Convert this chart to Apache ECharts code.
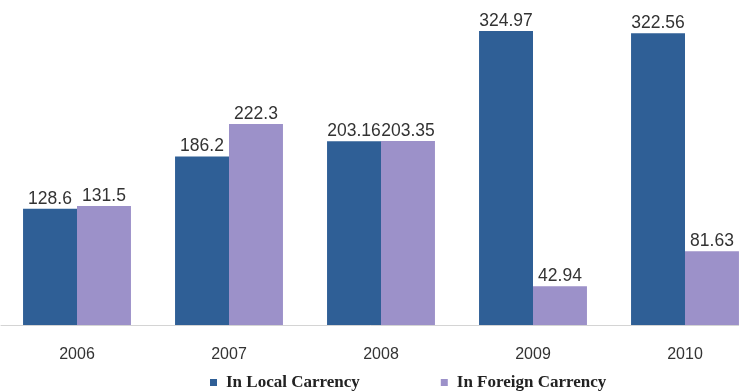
<!DOCTYPE html>
<html>
<head>
<meta charset="utf-8">
<script src="https://cdn.jsdelivr.net/npm/echarts@6/dist/echarts.min.js"></script>
<style>
  html, body { margin: 0; padding: 0; background: #ffffff; }
  #chart { width: 739px; height: 391px; }
</style>
</head>
<body>
<div id="chart"></div>
<script>
// Yearly amounts, local vs foreign currency
const years = ['2006', '2007', '2008', '2009', '2010'];
const localCurrency = [128.6, 186.2, 203.16, 324.97, 322.56];
const foreignCurrency = [131.5, 222.3, 203.35, 42.94, 81.63];
const seriesNames = ['In Local Carrency', 'In Foreign Carrency'];

const chart = echarts.init(document.getElementById('chart'), null, { renderer: 'canvas' });

const valueLabel = {
  show: true,
  position: 'top',
  distance: 1,
  color: '#333333',
  fontFamily: 'Liberation Sans, Arial, sans-serif',
  fontSize: 17.5
};

chart.setOption({
  animation: false,
  backgroundColor: '#ffffff',
  grid: {
    left: 1,
    top: 8.4,
    width: 760,
    height: 316.6,
    outerBoundsMode: 'none',
    containLabel: false
  },
  xAxis: {
    type: 'category',
    data: years,
    axisLine: { show: true, lineStyle: { color: '#d4d4d4', width: 1 } },
    axisTick: { show: false },
    axisLabel: {
      color: '#333333',
      fontFamily: 'Liberation Sans, Arial, sans-serif',
      fontSize: 16,
      margin: 22
    }
  },
  yAxis: {
    type: 'value',
    min: 0,
    max: 350,
    show: false,
    splitLine: { show: false }
  },
  legend: {
    data: seriesNames,
    left: 205,
    top: 369,
    icon: 'rect',
    itemWidth: 7,
    itemHeight: 7,
    itemGap: 81,
    textStyle: {
      color: '#222222',
      fontFamily: 'Liberation Serif, Times New Roman, serif',
      fontWeight: 'bold',
      fontSize: 17,
      padding: [0, 0, 0, 4]
    }
  },
  series: [
    {
      name: seriesNames[0],
      type: 'bar',
      data: localCurrency,
      barGap: '0%',
      barCategoryGap: '29%',
      itemStyle: { color: '#2f5f96' },
      label: valueLabel
    },
    {
      name: seriesNames[1],
      type: 'bar',
      data: foreignCurrency,
      itemStyle: { color: '#9c91c9' },
      label: valueLabel
    }
  ]
});
</script>
</body>
</html>
